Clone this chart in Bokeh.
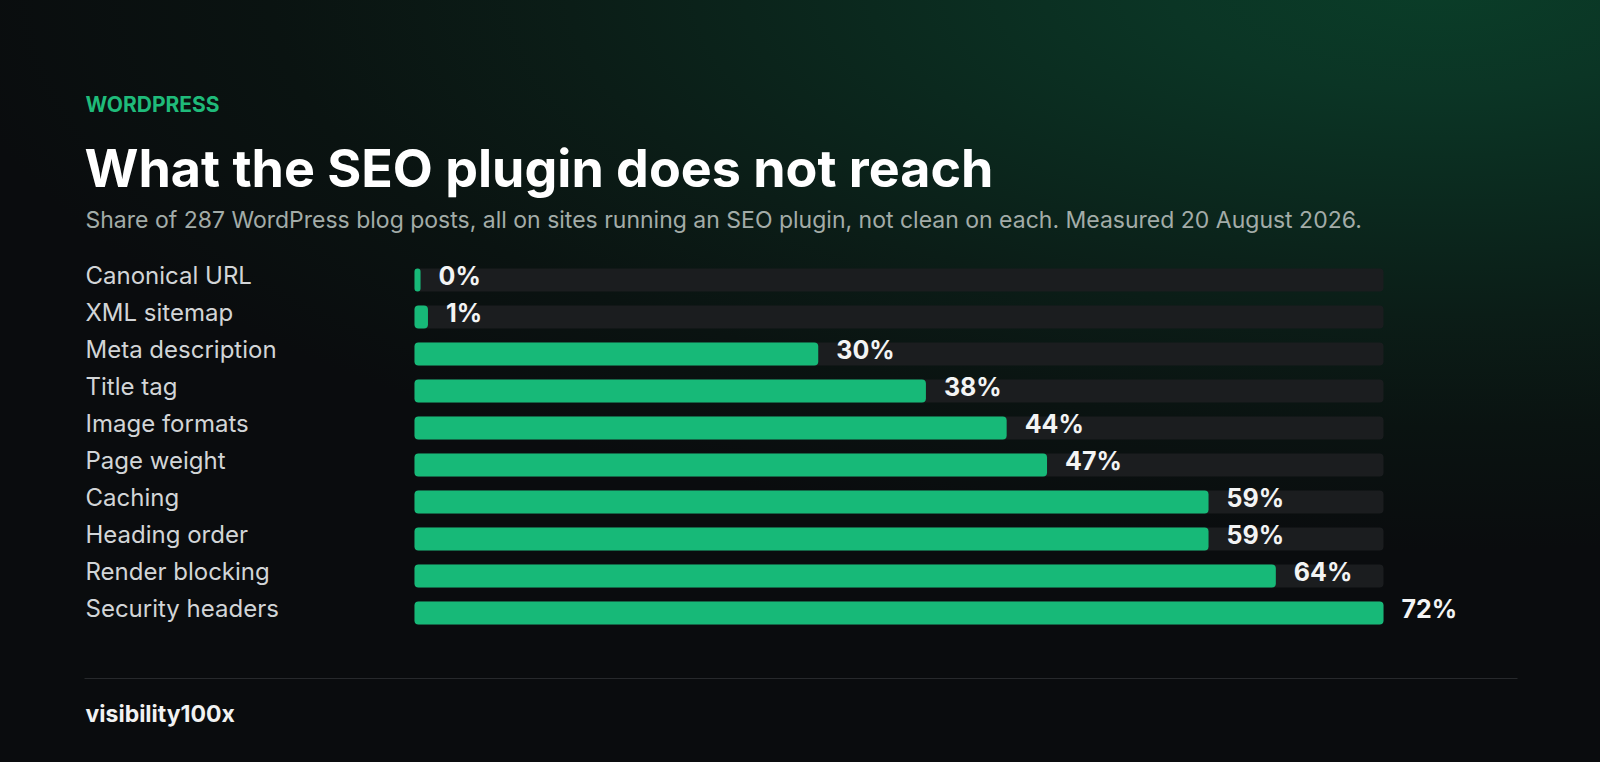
import numpy as np
from bokeh.plotting import figure
from bokeh.models import Range1d, ColumnDataSource, GlobalInlineStyleSheet
from bokeh.core.properties import value
from bokeh.embed import file_html
from bokeh.resources import INLINE

# data
checks = ["Canonical URL", "XML sitemap", "Meta description", "Title tag", "Image formats",
          "Page weight", "Caching", "Heading order", "Render blocking", "Security headers"]
share_pct = [0, 1, 30, 38, 44, 47, 59, 59, 64, 72]

eyebrow = "WORDPRESS"
title = "What the SEO plugin does not reach"
subtitle = ("Share of 287 WordPress blog posts, all on sites running an SEO plugin, "
            "not clean on each. Measured 20 August 2026.")
brand = "visibility100x"

# look
W, H = 1600, 762
BG = "#0a0c0e"
GREEN = "#17b978"
TRACK = "#1b1d1f"
FONT = value("Inter")

# bar block placement, page pixels
bar_x0, bar_x1 = 414, 1383
row0_y, row_step = 279.5, 37
track_max = max(share_pct)
n = len(checks)

px_per = (bar_x1 - bar_x0) / track_max
x_start = -bar_x0 / px_per
x_end = (W - bar_x0) / px_per
y_top = -row0_y / row_step
y_bottom = (H - row0_y) / row_step

p = figure(width=W, height=H, x_range=Range1d(x_start, x_end), y_range=Range1d(y_bottom, y_top),
           output_backend="svg", toolbar_location=None, min_border=0,
           x_axis_location=None, y_axis_location=None)
p.extra_x_ranges = {"px": Range1d(0, W)}
p.extra_y_ranges = {"px": Range1d(H, 0)}
p.grid.visible = False
p.outline_line_color = None
p.background_fill_color = None
p.border_fill_color = None

# dark page with the green glow up in the right corner
p.stylesheets = [GlobalInlineStyleSheet(css=(
    "html, body { margin: 0; padding: 0; overflow: hidden; background-color: %s; }"
    "body { background-image: radial-gradient(ellipse 1500px 560px at 1440px -10px,"
    " #0a3d28 0%%, #0b3525 18%%, #0b291e 38%%, #0b1d17 58%%, #0a1311 78%%, %s 100%%);"
    " background-repeat: no-repeat; min-height: 762px; }" % (BG, BG)))]

src = ColumnDataSource(dict(
    row=list(range(n)),
    track=[track_max] * n,
    bar=np.maximum(share_pct, 0.45),
    label=[f"{v}%" for v in share_pct],
    name=checks,
))

p.hbar(y="row", left=0, right="track", height=0.62, fill_color=TRACK, line_color=None,
       border_radius=4, source=src)
p.hbar(y="row", left=0, right="bar", height=0.62, fill_color=GREEN, line_color=None,
       border_radius=4, source=src)

p.text(x=85, y="row", text="name", source=src, x_range_name="px",
       text_font=FONT, text_font_size="24px", text_color="#d2d5d7",
       text_baseline="alphabetic", y_offset=-4.5)
p.text(x="bar", y="row", text="label", source=src, x_offset=18,
       text_font=FONT, text_font_size="25px", text_font_style="bold", text_color="#f3f4f4",
       text_baseline="alphabetic", y_offset=-4.5)

# header
p.text(x=[85], y=[104], text=[eyebrow], x_range_name="px", y_range_name="px",
       text_font=FONT, text_font_size="21px", text_font_style="bold", text_color="#1fbb7a",
       text_baseline="alphabetic")
p.text(x=[84], y=[168], text=[title], x_range_name="px", y_range_name="px",
       text_font=FONT, text_font_size="52px", text_font_style="bold", text_color="#ffffff",
       text_baseline="alphabetic")
p.text(x=[85], y=[219.5], text=[subtitle], x_range_name="px", y_range_name="px",
       text_font=FONT, text_font_size="23px", text_color="#a3aca8",
       text_baseline="alphabetic")

# footer
p.segment(x0=[84], y0=[678], x1=[1517], y1=[678], x_range_name="px", y_range_name="px",
          line_color="#27292c", line_width=1)
p.text(x=[85], y=[713.5], text=[brand], x_range_name="px", y_range_name="px",
       text_font=FONT, text_font_size="23px", text_font_style="bold", text_color="#f1f2f2",
       text_baseline="alphabetic")

open("out.html", "w").write(file_html(p, INLINE))
